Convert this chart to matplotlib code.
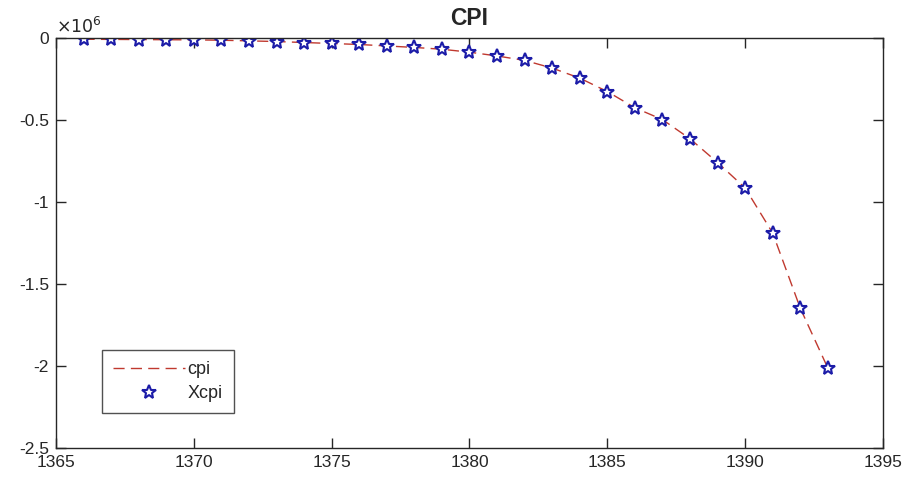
import matplotlib
matplotlib.use("Agg")
import matplotlib.pyplot as plt
import numpy as np
from matplotlib.ticker import FuncFormatter

plt.rcParams["font.family"] = ["Liberation Sans", "DejaVu Sans"]
plt.rcParams["axes.unicode_minus"] = False

# data (values in units, axis shows x10^6)
years = list(range(1366, 1394))
cpi = [-0.008, -0.009, -0.010, -0.011, -0.012, -0.014, -0.018, -0.022,
       -0.028, -0.034, -0.040, -0.049, -0.058, -0.069, -0.087, -0.110,
       -0.137, -0.184, -0.245, -0.327, -0.426, -0.498, -0.615, -0.760,
       -0.915, -1.190, -1.648, -2.013]
cpi = [v * 1e6 for v in cpi]
xcpi = list(cpi)

yticks = [-2.5e6, -2e6, -1.5e6, -1e6, -0.5e6, 0]
xticks = [1365, 1370, 1375, 1380, 1385, 1390, 1395]

dark = "#262626"

fig = plt.figure(figsize=(9.06, 4.8), dpi=100)
ax = fig.add_axes([0.0618, 0.0667, 0.9128, 0.8543])

ax.plot(years, cpi, color="#c0392f", linestyle=(0, (8, 4.5)), linewidth=1.0, label="cpi")
ax.plot(years, xcpi, linestyle="none", marker="*", markersize=10.5,
        markerfacecolor="white", markeredgecolor="#1c1ca8", markeredgewidth=1.5,
        label="Xcpi")

ax.set_xlim(1365, 1395)
ax.set_ylim(-2.5e6, 0)
ax.set_xticks(xticks)
ax.set_yticks(yticks)
ax.yaxis.set_major_formatter(FuncFormatter(lambda v, p: "%g" % (v / 1e6)))

ax.tick_params(direction="in", length=7, width=1.0, colors=dark,
               labelsize=12.5, top=True, right=True, pad=5)
for s in ax.spines.values():
    s.set_color(dark)
    s.set_linewidth(1.0)

ax.set_title("CPI", fontsize=16.5, fontweight="bold", color=dark, pad=9)
ax.text(0.0, 1.005, r"$\times10^{6}$", transform=ax.transAxes,
        fontsize=12.5, color=dark, ha="left", va="bottom")

leg = ax.legend(loc="lower left", bbox_to_anchor=(0.0556, 0.0854),
                borderaxespad=0, fontsize=13, frameon=True, fancybox=False,
                handlelength=4.0, borderpad=0.6, labelspacing=0.4,
                handletextpad=0.15)
leg.get_frame().set_edgecolor(dark)
leg.get_frame().set_linewidth(1.0)
for t in leg.get_texts():
    t.set_color(dark)

fig.savefig("out.png", dpi=100)
